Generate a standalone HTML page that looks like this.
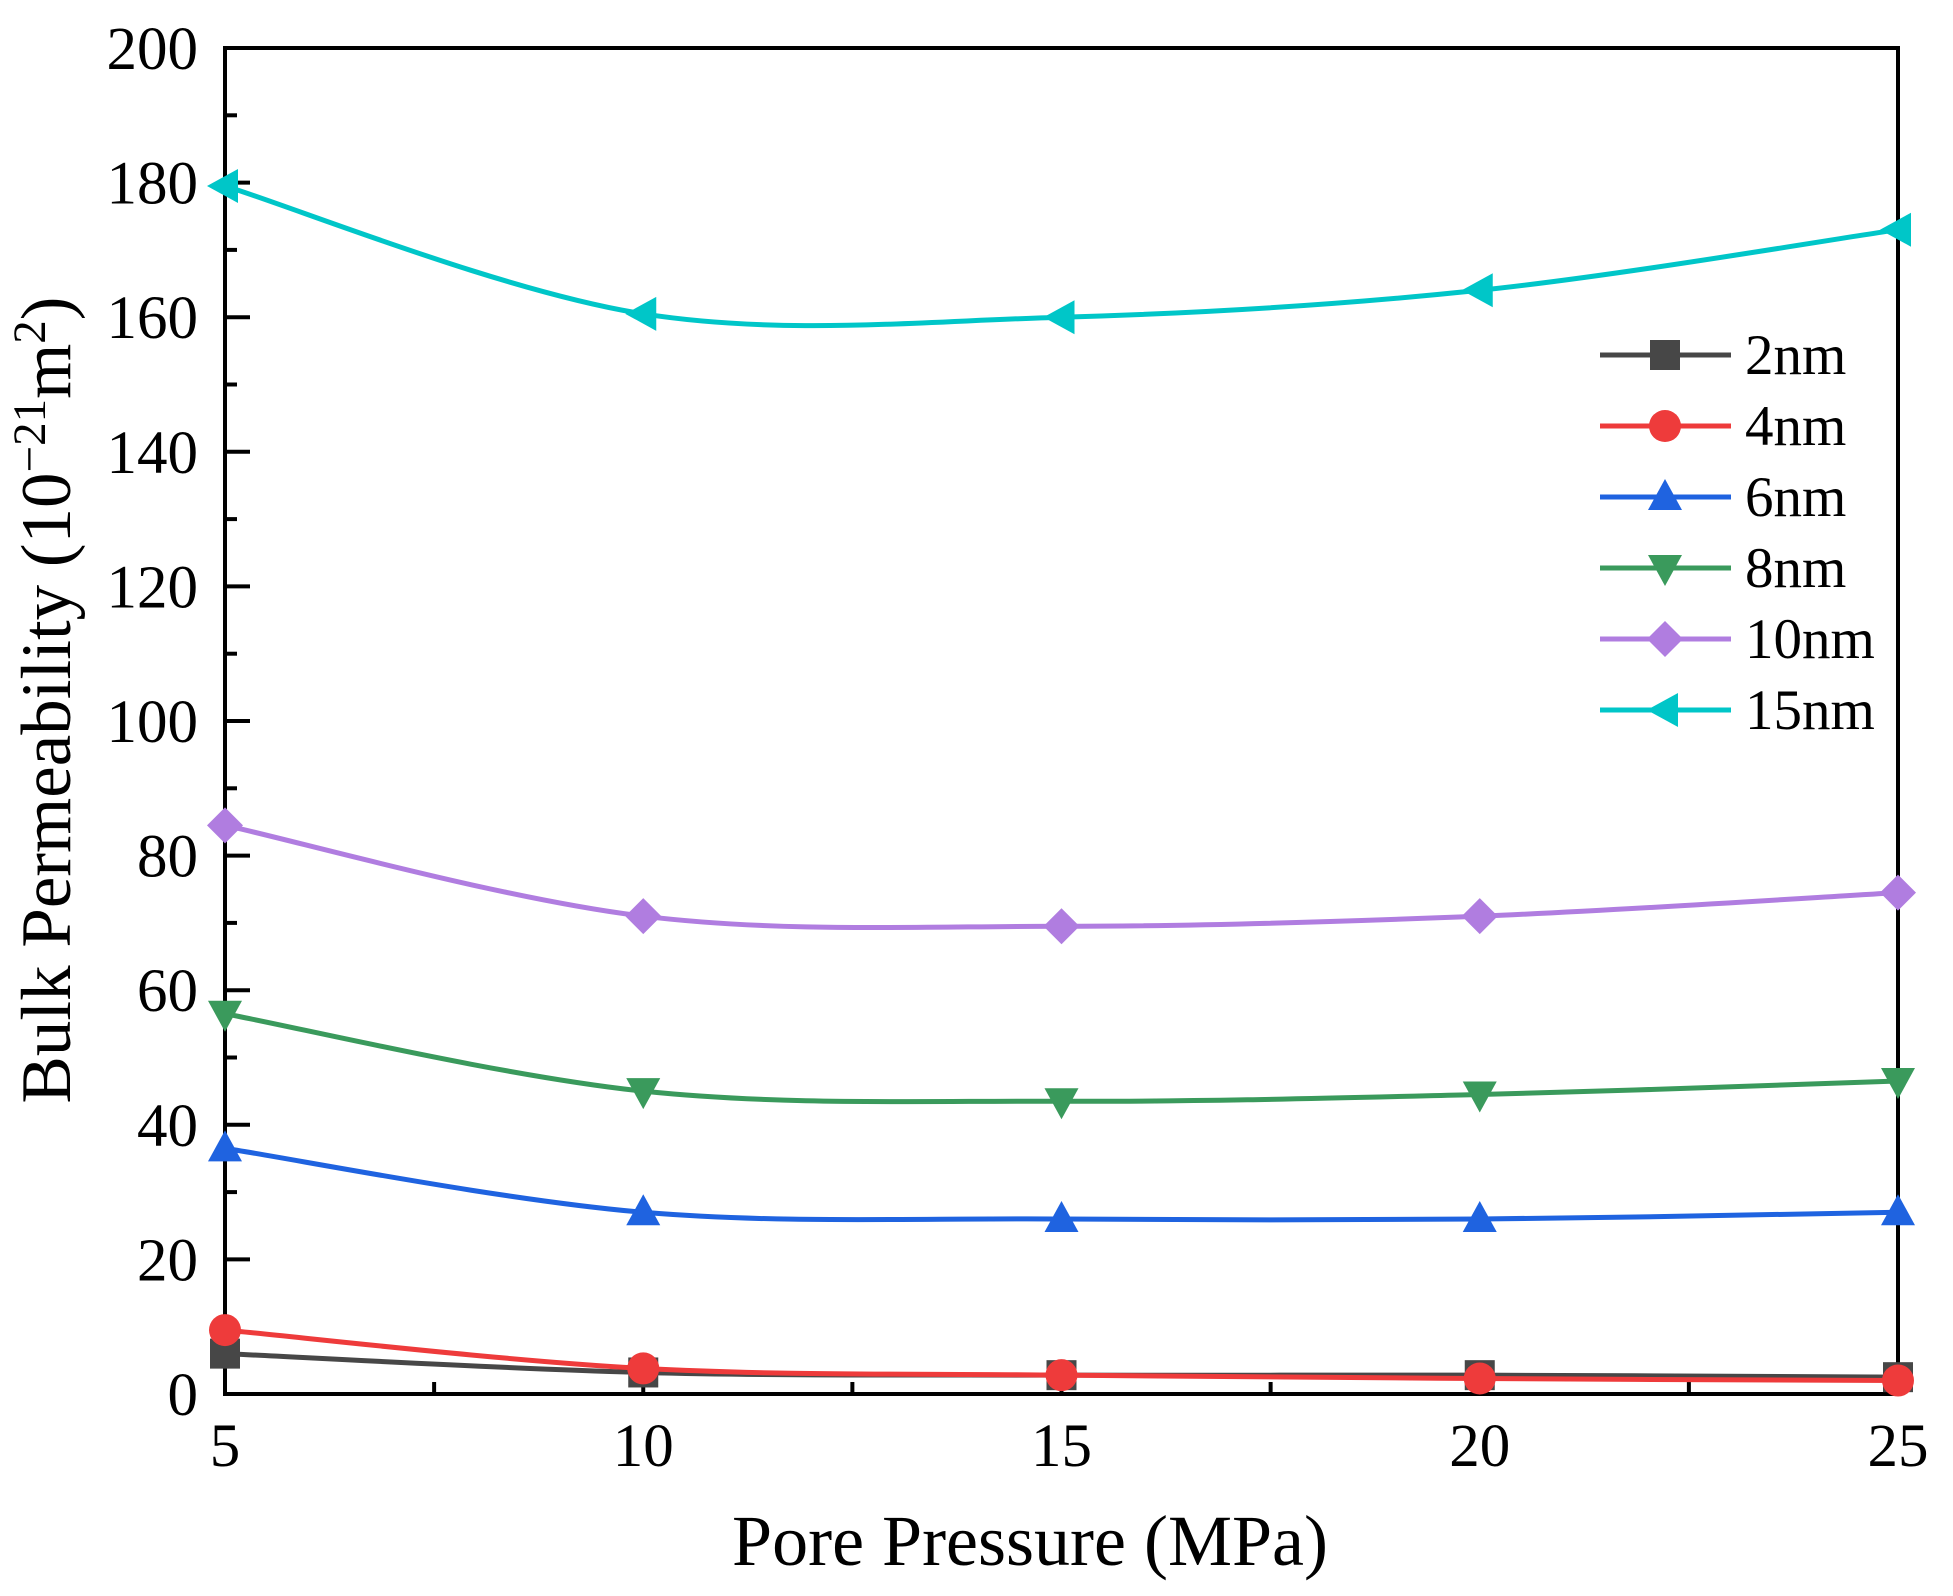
<!DOCTYPE html>
<html><head><meta charset="utf-8"><style>
html,body{margin:0;padding:0;background:#fff;}
svg{display:block;font-family:"Liberation Serif",serif;}
</style></head><body>
<svg id="s" width="1953" height="1596" viewBox="0 0 1953 1596" xmlns="http://www.w3.org/2000/svg"></svg>
<script>
const L=225,R=1898,T=48,B=1394;
const X=v=>L+(v-5)/20*(R-L), Y=v=>B-v/200*(B-T);
let h='';
h+=`<rect x="${L}" y="${T}" width="${R-L}" height="${B-T}" fill="none" stroke="#000" stroke-width="4"/>`;
for(let v=0;v<=200;v+=10){const y=Y(v),len=v%20==0?25:12;
 h+=`<line x1="${L}" y1="${y}" x2="${L+len}" y2="${y}" stroke="#000" stroke-width="4"/>`;
 if(v%20==0)h+=`<text x="198" y="${y+21}" font-size="61" text-anchor="end">${v}</text>`;}
for(let v=5;v<=25;v+=2.5){const x=X(v),len=(v%5==0)?25:12;
 h+=`<line x1="${x}" y1="${B}" x2="${x}" y2="${B-len}" stroke="#000" stroke-width="4"/>`;
 if(v%5==0)h+=`<text x="${x}" y="${B+72}" font-size="61" text-anchor="middle">${v}</text>`;}
h+=`<text x="1030" y="1565" font-size="72" text-anchor="middle">Pore Pressure (MPa)</text>`;
h+=`<text transform="translate(70,700) rotate(-90)" font-size="71" text-anchor="middle">Bulk Permeability (10<tspan dy="-25" font-size="47">−21</tspan><tspan dy="25">m</tspan><tspan dy="-25" font-size="47">2</tspan><tspan dy="25">)</tspan></text>`;
const xs=[5,10,15,20,25];
const S=[
 ['2nm','#474747','sq',[6,3.2,2.8,2.8,2.5]],
 ['4nm','#ee3b3b','ci',[9.5,3.8,2.8,2.3,2.0]],
 ['6nm','#1f63e0','up',[36.5,27,26,26,27]],
 ['8nm','#3a9a5c','dn',[56.5,45,43.5,44.5,46.5]],
 ['10nm','#b07de0','di',[84.5,71,69.5,71,74.5]],
 ['15nm','#00c6c8','le',[179.5,160.5,160,164,173]]];
function mk(t,x,y,c){const r=15;
 if(t=='sq')return `<rect x="${x-r}" y="${y-r}" width="${2*r}" height="${2*r}" fill="${c}"/>`;
 if(t=='ci')return `<circle cx="${x}" cy="${y}" r="${r+1}" fill="${c}"/>`;
 if(t=='up')return `<polygon points="${x},${y-r-3} ${x-r-2},${y+r-2} ${x+r+2},${y+r-2}" fill="${c}"/>`;
 if(t=='dn')return `<polygon points="${x},${y+r+3} ${x-r-2},${y-r+2} ${x+r+2},${y-r+2}" fill="${c}"/>`;
 if(t=='di')return `<polygon points="${x},${y-r-3} ${x+r+3},${y} ${x},${y+r+3} ${x-r-3},${y}" fill="${c}"/>`;
 return `<polygon points="${x-r-3},${y} ${x+r-2},${y-r-2} ${x+r-2},${y+r+2}" fill="${c}"/>`;}
S.forEach(([n,c,t,v],k)=>{
 const p=xs.map((x,i)=>[X(x),Y(v[i])]);
 let d=`M${p[0][0]},${p[0][1]}`;
 for(let i=0;i<p.length-1;i++){const p0=p[i-1]||p[i],p1=p[i],p2=p[i+1],p3=p[i+2]||p2;
  d+=` C${p1[0]+(p2[0]-p0[0])/6},${p1[1]+(p2[1]-p0[1])/6} ${p2[0]-(p3[0]-p1[0])/6},${p2[1]-(p3[1]-p1[1])/6} ${p2[0]},${p2[1]}`;}
 h+=`<path d="${d}" fill="none" stroke="${c}" stroke-width="5"/>`;
 p.forEach(q=>h+=mk(t,q[0],q[1],c));
 const ly=355+k*71;
 h+=`<line x1="1600" y1="${ly}" x2="1731" y2="${ly}" stroke="${c}" stroke-width="5"/>`+mk(t,1665,ly,c);
 h+=`<text x="1745" y="${ly+19}" font-size="57">${n}</text>`;
});
document.getElementById('s').innerHTML=h;
</script>
</body></html>
